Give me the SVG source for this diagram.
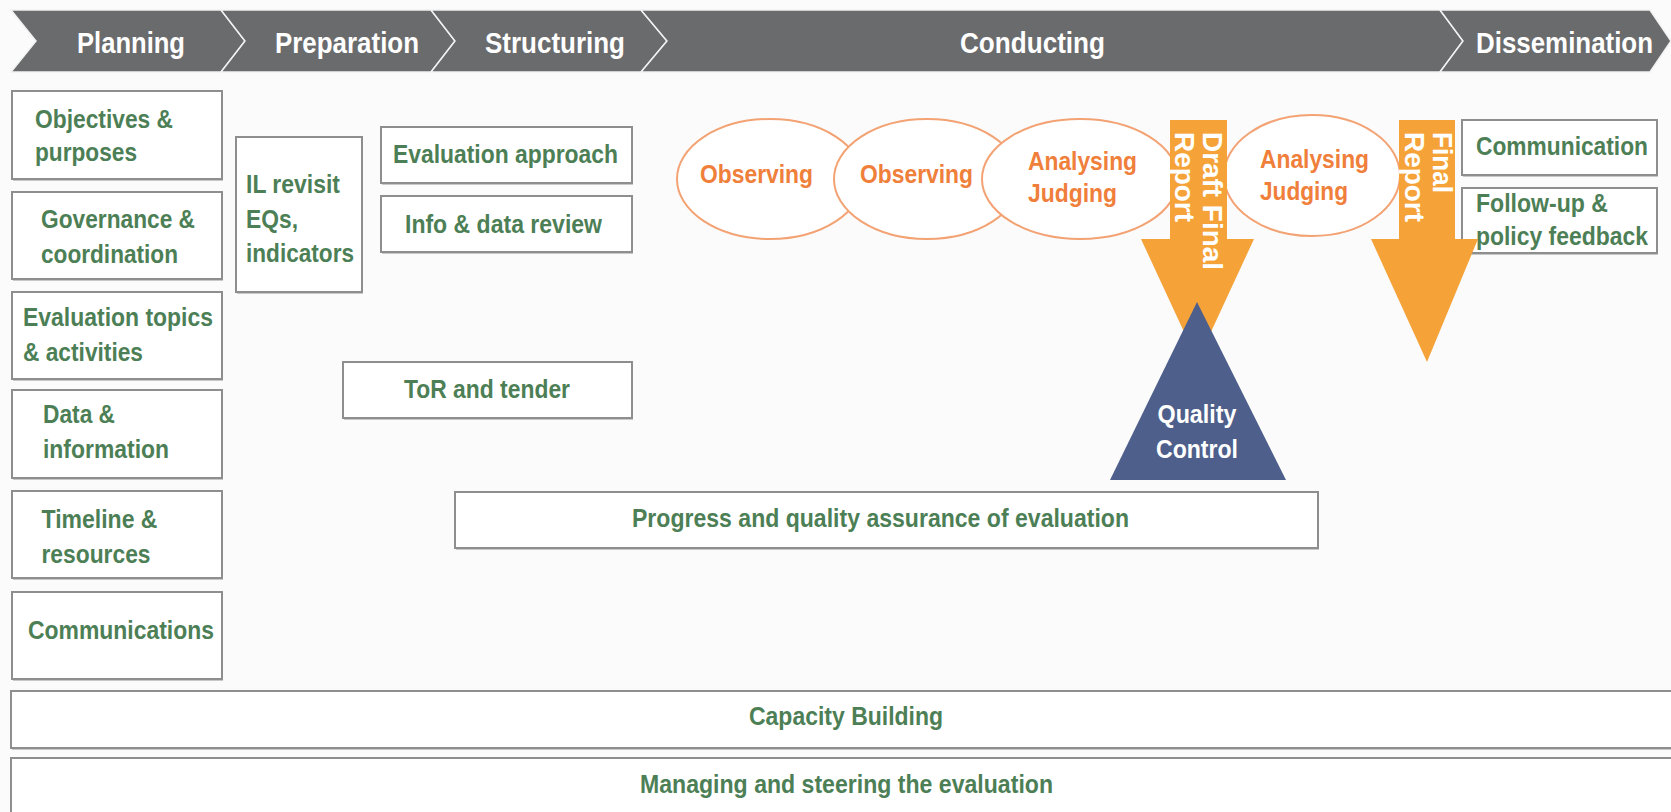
<svg xmlns="http://www.w3.org/2000/svg" width="1671" height="812" viewBox="0 0 1671 812">
<style>
  text { font-family: "Liberation Sans", Arial, sans-serif; font-weight: bold; }
  .hdr { fill: #6a6b6d; stroke: #f2f2f2; stroke-width: 1.5; }
  .ht { fill: #ffffff; font-size: 29px; }
  .box { fill: #ffffff; stroke: #8e8e8e; stroke-width: 2; }
  .shadow { fill: #c8c8c8; }
  .gt { fill: #4d7f56; font-size: 25px; }
  .ell { fill: #ffffff; stroke: #f3a273; stroke-width: 2; }
  .ot { fill: #ef7f3b; font-size: 25px; }
  .arr { fill: #f5a339; }
  .wt { fill: #ffffff; font-size: 28px; }
  .tri { fill: #4e5f8b; }
  .qt { fill: #ffffff; font-size: 25px; }
</style>
<rect x="0" y="0" width="1671" height="812" fill="#fbfbfb"/>

<g id="header">
  <g id="phase-planning">
    <polygon class="hdr" points="11,10 221,10 245,41 221,72 11,72 36,41"/>
    <text class="ht" x="77" y="53" textLength="108" lengthAdjust="spacingAndGlyphs">Planning</text>
  </g>
  <g id="phase-preparation">
    <polygon class="hdr" points="221,10 431,10 455,41 431,72 221,72 245,41"/>
    <text class="ht" x="275" y="53" textLength="144" lengthAdjust="spacingAndGlyphs">Preparation</text>
  </g>
  <g id="phase-structuring">
    <polygon class="hdr" points="431,10 641,10 667,41 641,72 431,72 455,41"/>
    <text class="ht" x="485" y="53" textLength="140" lengthAdjust="spacingAndGlyphs">Structuring</text>
  </g>
  <g id="phase-conducting">
    <polygon class="hdr" points="641,10 1440,10 1463,41 1440,72 641,72 667,41"/>
    <text class="ht" x="960" y="53" textLength="145" lengthAdjust="spacingAndGlyphs">Conducting</text>
  </g>
  <g id="phase-dissemination">
    <polygon class="hdr" points="1440,10 1650,10 1671,41 1650,72 1440,72 1463,41"/>
    <text class="ht" x="1476" y="53" textLength="177" lengthAdjust="spacingAndGlyphs">Dissemination</text>
  </g>
</g>

<g id="objectives">
  <rect class="shadow" x="13" y="93" width="210" height="88"/>
  <rect class="box" x="12" y="91" width="210" height="88"/>
  <text class="gt" x="35" y="128" textLength="138" lengthAdjust="spacingAndGlyphs">Objectives &amp;</text>
  <text class="gt" x="35" y="161" textLength="102" lengthAdjust="spacingAndGlyphs">purposes</text>
</g>
<g id="governance">
  <rect class="shadow" x="13" y="194" width="210" height="87"/>
  <rect class="box" x="12" y="192" width="210" height="87"/>
  <text class="gt" x="41" y="228" textLength="154" lengthAdjust="spacingAndGlyphs">Governance &amp;</text>
  <text class="gt" x="41" y="263" textLength="137" lengthAdjust="spacingAndGlyphs">coordination</text>
</g>
<g id="topics">
  <rect class="shadow" x="13" y="294" width="210" height="87"/>
  <rect class="box" x="12" y="292" width="210" height="87"/>
  <text class="gt" x="23" y="326" textLength="190" lengthAdjust="spacingAndGlyphs">Evaluation topics</text>
  <text class="gt" x="23" y="361" textLength="120" lengthAdjust="spacingAndGlyphs">&amp; activities</text>
</g>
<g id="data">
  <rect class="shadow" x="13" y="392" width="210" height="88"/>
  <rect class="box" x="12" y="390" width="210" height="88"/>
  <text class="gt" x="43" y="423" textLength="72" lengthAdjust="spacingAndGlyphs">Data &amp;</text>
  <text class="gt" x="43" y="458" textLength="126" lengthAdjust="spacingAndGlyphs">information</text>
</g>
<g id="timeline">
  <rect class="shadow" x="13" y="493" width="210" height="87"/>
  <rect class="box" x="12" y="491" width="210" height="87"/>
  <text class="gt" x="41.5" y="528" textLength="116" lengthAdjust="spacingAndGlyphs">Timeline &amp;</text>
  <text class="gt" x="41.5" y="563" textLength="109" lengthAdjust="spacingAndGlyphs">resources</text>
</g>
<g id="communications">
  <rect class="shadow" x="13" y="594" width="210" height="87"/>
  <rect class="box" x="12" y="592" width="210" height="87"/>
  <text class="gt" x="28" y="639" textLength="186" lengthAdjust="spacingAndGlyphs">Communications</text>
</g>

<g id="il-revisit">
  <rect class="shadow" x="237" y="139" width="126" height="155"/>
  <rect class="box" x="236" y="137" width="126" height="155"/>
  <text class="gt" x="246" y="193" textLength="94" lengthAdjust="spacingAndGlyphs">IL revisit</text>
  <text class="gt" x="246" y="228" textLength="52" lengthAdjust="spacingAndGlyphs">EQs,</text>
  <text class="gt" x="246" y="262" textLength="108" lengthAdjust="spacingAndGlyphs">indicators</text>
</g>
<g id="evaluation-approach">
  <rect class="shadow" x="382" y="129" width="251" height="56"/>
  <rect class="box" x="381" y="127" width="251" height="56"/>
  <text class="gt" x="393" y="163" textLength="225" lengthAdjust="spacingAndGlyphs">Evaluation approach</text>
</g>
<g id="info-data-review">
  <rect class="shadow" x="382" y="198" width="251" height="56"/>
  <rect class="box" x="381" y="196" width="251" height="56"/>
  <text class="gt" x="405" y="233" textLength="197" lengthAdjust="spacingAndGlyphs">Info &amp; data review</text>
</g>
<g id="tor-tender">
  <rect class="shadow" x="344" y="364" width="289" height="56"/>
  <rect class="box" x="343" y="362" width="289" height="56"/>
  <text class="gt" x="404" y="398" textLength="166" lengthAdjust="spacingAndGlyphs">ToR and tender</text>
</g>
<g id="progress-qa">
  <rect class="shadow" x="456" y="494" width="863" height="56"/>
  <rect class="box" x="455" y="492" width="863" height="56"/>
  <text class="gt" x="632" y="527" textLength="497" lengthAdjust="spacingAndGlyphs">Progress and quality assurance of evaluation</text>
</g>
<g id="capacity-building">
  <rect class="shadow" x="12" y="693" width="1670" height="57"/>
  <rect class="box" x="11" y="691" width="1670" height="57"/>
  <text class="gt" x="749" y="725" textLength="194" lengthAdjust="spacingAndGlyphs">Capacity Building</text>
</g>
<g id="managing-steering">
  <rect class="box" x="11" y="758" width="1670" height="70"/>
  <text class="gt" x="640" y="793" textLength="413" lengthAdjust="spacingAndGlyphs">Managing and steering the evaluation</text>
</g>

<g id="observing-1">
  <ellipse class="ell" cx="770" cy="179" rx="93" ry="60"/>
  <text class="ot" x="700" y="183" textLength="113" lengthAdjust="spacingAndGlyphs">Observing</text>
</g>
<g id="observing-2">
  <ellipse class="ell" cx="927" cy="179" rx="93" ry="60"/>
  <text class="ot" x="860" y="183" textLength="113" lengthAdjust="spacingAndGlyphs">Observing</text>
</g>
<g id="analysing-1">
  <ellipse class="ell" cx="1080" cy="179" rx="98" ry="60"/>
  <text class="ot" x="1028" y="170" textLength="109" lengthAdjust="spacingAndGlyphs">Analysing</text>
  <text class="ot" x="1028" y="202" textLength="89" lengthAdjust="spacingAndGlyphs">Judging</text>
</g>
<g id="analysing-2">
  <ellipse class="ell" cx="1312" cy="175.5" rx="88" ry="60.5"/>
  <text class="ot" x="1260" y="168" textLength="109" lengthAdjust="spacingAndGlyphs">Analysing</text>
  <text class="ot" x="1260" y="200" textLength="88" lengthAdjust="spacingAndGlyphs">Judging</text>
</g>

<g id="communication">
  <rect class="shadow" x="1463" y="122" width="195" height="55"/>
  <rect class="box" x="1462" y="120" width="195" height="55"/>
  <text class="gt" x="1476" y="155" textLength="172" lengthAdjust="spacingAndGlyphs">Communication</text>
</g>
<g id="follow-up">
  <rect class="shadow" x="1463" y="190" width="195" height="65"/>
  <rect class="box" x="1462" y="188" width="195" height="65"/>
</g>

<g id="connectors">
  <g id="draft-final-report">
    <polygon class="arr" points="1170,120 1227,120 1227,239 1254,239 1197.5,361 1141,239 1170,239"/>
    <text class="wt" transform="translate(1203,132) rotate(90)" textLength="138" lengthAdjust="spacingAndGlyphs">Draft Final</text>
    <text class="wt" transform="translate(1175,132) rotate(90)" textLength="90" lengthAdjust="spacingAndGlyphs">Report</text>
  </g>
  <g id="final-report">
    <polygon class="arr" points="1399,120 1455,120 1455,239 1478,239 1427,362 1371,239 1399,239"/>
    <text class="wt" transform="translate(1433,132) rotate(90)" textLength="61" lengthAdjust="spacingAndGlyphs">Final</text>
    <text class="wt" transform="translate(1405,132) rotate(90)" textLength="90" lengthAdjust="spacingAndGlyphs">Report</text>
  </g>
</g>

<g id="quality-control">
  <polygon class="tri" points="1197,302 1286,480 1110,480"/>
  <text class="qt" x="1197" y="423" text-anchor="middle" textLength="79" lengthAdjust="spacingAndGlyphs">Quality</text>
  <text class="qt" x="1197" y="458" text-anchor="middle" textLength="82" lengthAdjust="spacingAndGlyphs">Control</text>
</g>

<g id="follow-up-label">
  <text class="gt" x="1476" y="212" textLength="132" lengthAdjust="spacingAndGlyphs">Follow-up &amp;</text>
  <text class="gt" x="1476" y="245" textLength="172" lengthAdjust="spacingAndGlyphs">policy feedback</text>
</g>
</svg>
